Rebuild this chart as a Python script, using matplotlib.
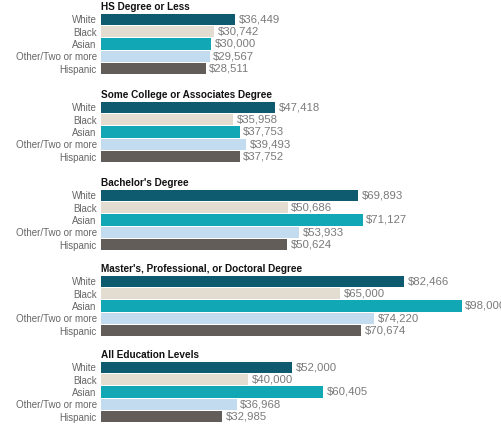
import matplotlib.pyplot as plt

# groups and values (median income)
titles = ['HS Degree or Less',
          'Some College or Associates Degree',
          "Bachelor's Degree",
          "Master's, Professional, or Doctoral Degree",
          'All Education Levels']
races = ['White', 'Black', 'Asian', 'Other/Two or more', 'Hispanic']

hs = [36449, 30742, 30000, 29567, 28511]
some_college = [47418, 35958, 37753, 39493, 37752]
bachelors = [69893, 50686, 71127, 53933, 50624]
masters = [82466, 65000, 98000, 74220, 70674]
all_levels = [52000, 40000, 60405, 36968, 32985]

colors = ['#0e5a6e', '#e2ddd0', '#12a7b5', '#c3dbee', '#625d58']

plt.rcParams['font.family'] = ['Liberation Sans', 'DejaVu Sans']

W, H = 501, 424
fig = plt.figure(figsize=(W / 100, H / 100), dpi=100)

panels = [hs, some_college, bachelors, masters, all_levels]
tops = [13, 101, 189, 275, 361]   # pixel top of each bar block
block_h = 62
left_px = 101
px_per_unit = 3.68 / 1000

for title, vals, top in zip(titles, panels, tops):
    ax = fig.add_axes([left_px / W, (H - top - block_h) / H, (W - left_px) / W, block_h / H])
    ax.barh(range(len(races)), vals, height=0.9, color=colors)
    ax.set_xlim(0, (W - left_px) / px_per_unit)
    ax.set_ylim(4.5, -0.5)
    ax.set_yticks(range(len(races)))
    ax.set_yticklabels(races, fontsize=7, color='#666666')
    ax.tick_params(axis='y', length=0, pad=3)
    ax.set_xticks([])
    for s in ax.spines.values():
        s.set_visible(False)
    for i, v in enumerate(vals):
        ax.text(v + 900, i, '${:,}'.format(v), va='center', ha='left',
                fontsize=8.2, color='#7a7a7a', clip_on=False)
    ax.text(0, 1.02, title, transform=ax.transAxes, fontsize=7.2,
            fontweight='bold', va='bottom', ha='left', color='#111111')

fig.savefig('out.png', dpi=100)
